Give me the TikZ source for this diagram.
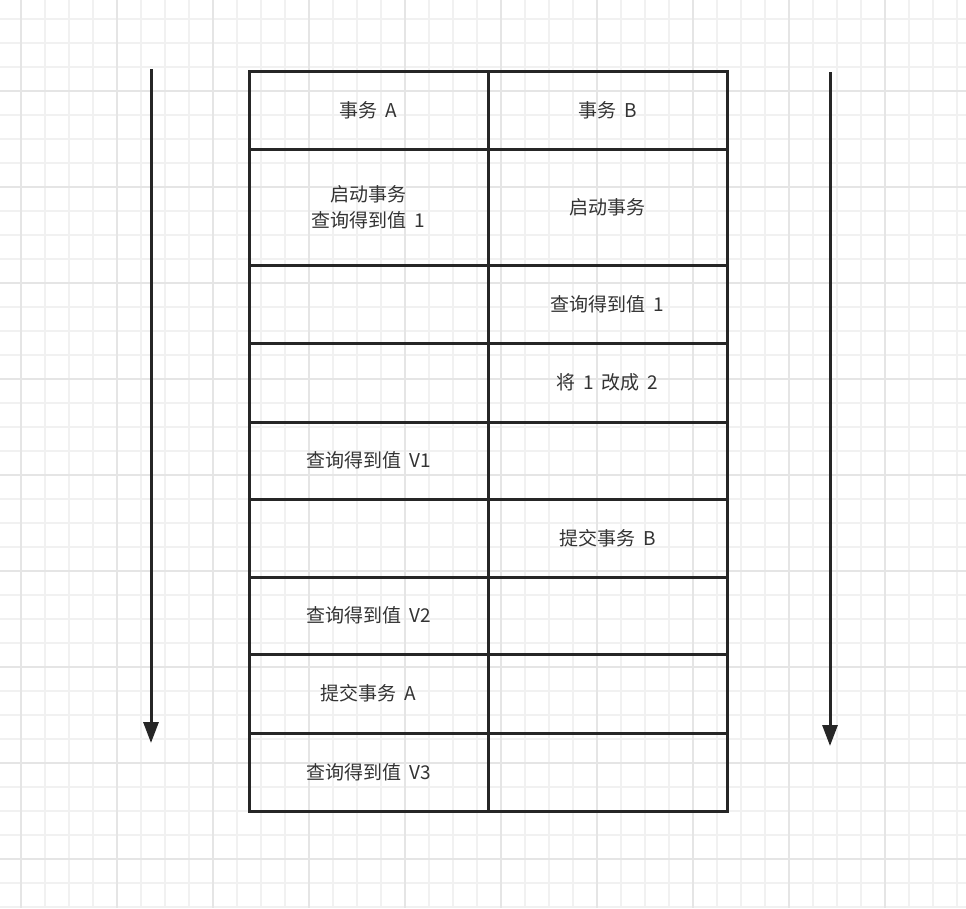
\documentclass[tikz,border=0pt]{standalone}
\usepackage{fontspec}
\setmainfont{Noto Sans CJK SC}[WordSpace=1.8]
\usepackage{tikz}
\usetikzlibrary{arrows.meta,positioning}
\definecolor{gridfine}{HTML}{F1F1F1}
\definecolor{gridbold}{HTML}{E5E5E5}
\definecolor{inkline}{HTML}{262626}
\definecolor{inktext}{HTML}{333333}
\tikzset{%
	gridminor/.style = {draw=gridfine, line width=1.6pt},
	gridmajor/.style = {draw=gridbold, line width=1.8pt},
	cell/.style      = {draw=inkline, line width=3pt, rectangle, outer sep=0pt, inner sep=0pt, minimum width=239pt, minimum height=78pt, align=center, text=inktext, font=\fontsize{19}{26}\selectfont},
	timeline/.style  = {draw=inkline, line width=3pt, -{Triangle[width=15pt,length=21pt]}},
}
\begin{document}
\begin{tikzpicture}[x=1pt,y=-1pt]
	\useasboundingbox (0,0) rectangle (966,908);
	\fill[white] (0,0) rectangle (966,908);
	% background paper
	\foreach \gx in {21,45,...,957} \draw[gridminor] (\gx,0) -- (\gx,908);
	\foreach \gy in {19,43,...,907} \draw[gridminor] (0,\gy) -- (966,\gy);
	\foreach \gx in {21,117,...,885} \draw[gridmajor] (\gx,0) -- (\gx,908);
	\foreach \gy in {91,187,...,859} \draw[gridmajor] (0,\gy) -- (966,\gy);
	% transaction A column
	\node[cell] (a1) at (368.5,110) {事务 A};
	\node[cell, minimum height=116pt, below=0pt of a1] (a2) {启动事务\\查询得到值 1};
	\node[cell, below=0pt of a2] (a3) {};
	\node[cell, minimum height=79pt, below=0pt of a3] (a4) {};
	\node[cell, minimum height=77pt, below=0pt of a4] (a5) {查询得到值 V1};
	\node[cell, below=0pt of a5] (a6) {};
	\node[cell, minimum height=77pt, below=0pt of a6] (a7) {查询得到值 V2};
	\node[cell, minimum height=79pt, below=0pt of a7] (a8) {提交事务 A};
	\node[cell, below=0pt of a8] (a9) {查询得到值 V3};
	% transaction B column
	\node[cell, right=0pt of a1] (b1) {事务 B};
	\node[cell, minimum height=116pt, right=0pt of a2] (b2) {启动事务};
	\node[cell, right=0pt of a3] (b3) {查询得到值 1};
	\node[cell, minimum height=79pt, right=0pt of a4] (b4) {将 1 改成 2};
	\node[cell, minimum height=77pt, right=0pt of a5] (b5) {};
	\node[cell, right=0pt of a6] (b6) {提交事务 B};
	\node[cell, minimum height=77pt, right=0pt of a7] (b7) {};
	\node[cell, minimum height=79pt, right=0pt of a8] (b8) {};
	\node[cell, right=0pt of a9] (b9) {};
	% time axes
	\coordinate (ta0) at (151,69);
	\coordinate (ta1) at (151,743);
	\coordinate (tb0) at (830,72);
	\coordinate (tb1) at (830,746);
	\draw[timeline] (ta0) -- (ta1);
	\draw[timeline] (tb0) -- (tb1);
\end{tikzpicture}
\end{document}
